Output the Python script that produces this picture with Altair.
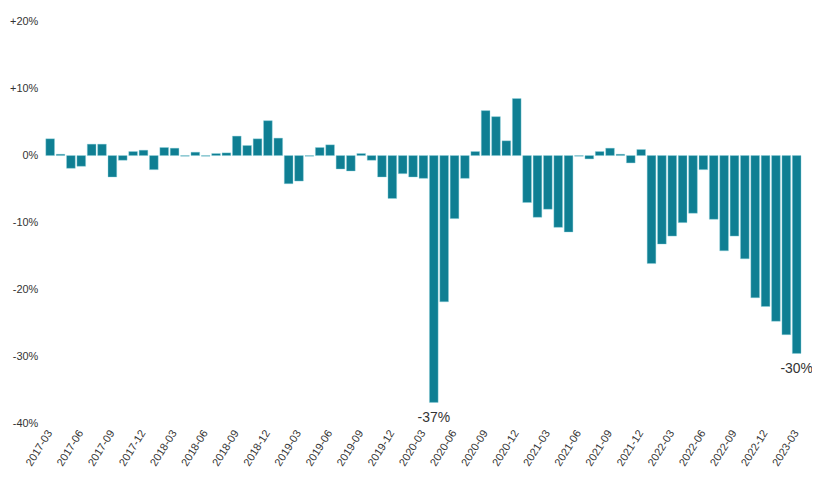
import altair as alt
import pandas as pd

months = [f"{y}-{m:02d}" for y in range(2017, 2024) for m in range(1, 13)]
months = months[months.index("2017-03"):months.index("2023-03") + 1]

values = [
    2.5, 0.2, -1.9, -1.6, 1.7, 1.7, -3.2, -0.7, 0.6, 0.8, -2.1, 1.2,
    1.1, -0.1, 0.5, -0.1, 0.3, 0.4, 2.9, 1.5, 2.5, 5.2, 2.6, -4.2,
    -3.8, -0.1, 1.2, 1.6, -2.0, -2.3, 0.3, -0.7, -3.2, -6.4, -2.7, -3.2,
    -3.4, -36.8, -21.8, -9.4, -3.4, 0.6, 6.7, 5.8, 2.2, 8.5, -7.0, -9.2,
    -8.0, -10.7, -11.4, -0.1, -0.5, 0.6, 1.1, 0.2, -1.1, 0.9, -16.1, -13.2,
    -12.0, -10.0, -8.6, -2.1, -9.5, -14.2, -12.0, -15.4, -21.2, -22.5, -24.7, -26.7,
    -29.5,
]

tick_months = months[::3]
annot_months = ["2020-04", "2023-03"]
annot_labels = ["-37%", "-30%"]

df = pd.DataFrame({"month": months, "value": values})
ann = pd.DataFrame({
    "month": annot_months,
    "value": [values[months.index(m)] for m in annot_months],
    "label": annot_labels,
})

FONT = "Liberation Sans"

x = alt.X(
    "month:N",
    sort=months,
    scale=alt.Scale(domain=months, paddingInner=0.16, paddingOuter=0.1),
    axis=alt.Axis(
        values=tick_months, labelAngle=-58, title=None, domain=False, ticks=False,
        labelFont=FONT, labelFontSize=11, labelColor="#333333", labelPadding=7,
    ),
)
y = alt.Y(
    "value:Q",
    scale=alt.Scale(domain=[-40, 20], nice=False),
    axis=alt.Axis(
        values=[20, 10, 0, -10, -20, -30, -40], title=None, grid=False, domain=False,
        ticks=False, labelFont=FONT, labelFontSize=11, labelColor="#333333",
        labelPadding=7,
        labelExpr="datum.value > 0 ? '+' + datum.value + '%' : datum.value + '%'",
    ),
)

bars = alt.Chart(df).mark_bar(color="#0f7f93", stroke="#8fd3de", strokeWidth=0.4).encode(x=x, y=y)

text = alt.Chart(ann).mark_text(
    baseline="top", align="center", dy=9, font=FONT, fontSize=14, color="#333333"
).encode(x=alt.X("month:N", sort=months), y="value:Q", text="label:N")

chart = (
    alt.layer(bars, text)
    .properties(
        width=762, height=405,
        autosize=alt.AutoSizeParams(type="none"),
        padding={"left": 37, "top": 12, "right": 10, "bottom": 57},
        view=alt.ViewBackground(stroke="transparent", strokeWidth=0),
    )
    .configure_view(strokeWidth=0, stroke="transparent")
    .configure(background="white")
)

chart.save("out.html", embed_options={"renderer": "svg", "actions": False})
